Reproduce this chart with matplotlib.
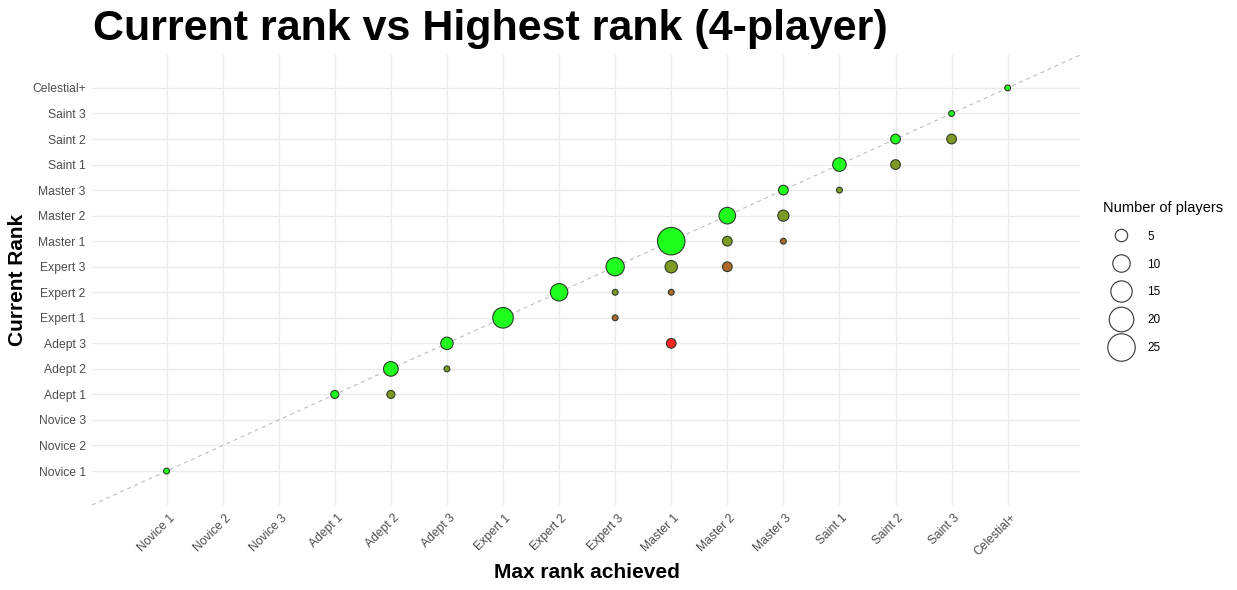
import matplotlib.pyplot as plt
from matplotlib.lines import Line2D
from matplotlib.transforms import ScaledTranslation

plt.rcParams['font.family'] = ['Liberation Sans', 'DejaVu Sans']

# rank ladder, lowest first
ranks = ["Novice 1", "Novice 2", "Novice 3", "Adept 1", "Adept 2", "Adept 3",
         "Expert 1", "Expert 2", "Expert 3", "Master 1", "Master 2", "Master 3",
         "Saint 1", "Saint 2", "Saint 3", "Celestial+"]

# one entry per (max rank, current rank) combination
max_rank = ["Novice 1", "Adept 1", "Adept 2", "Adept 2", "Adept 3", "Adept 3",
            "Expert 1", "Expert 2", "Expert 3", "Expert 3", "Expert 3",
            "Master 1", "Master 1", "Master 1", "Master 1",
            "Master 2", "Master 2", "Master 2",
            "Master 3", "Master 3", "Master 3",
            "Saint 1", "Saint 1", "Saint 2", "Saint 2", "Saint 3", "Saint 3",
            "Celestial+"]
current_rank = ["Novice 1", "Adept 1", "Adept 2", "Adept 1", "Adept 3", "Adept 2",
                "Expert 1", "Expert 2", "Expert 3", "Expert 2", "Expert 1",
                "Master 1", "Expert 3", "Expert 2", "Adept 3",
                "Master 2", "Master 1", "Expert 3",
                "Master 3", "Master 2", "Master 1",
                "Saint 1", "Master 3", "Saint 2", "Saint 1", "Saint 3", "Saint 2",
                "Celestial+"]
players = [1, 2, 7, 2, 5, 1,
           14, 10, 11, 1, 1,
           25, 5, 1, 3,
           9, 3, 3,
           3, 4, 1,
           6, 1, 3, 3, 1, 3,
           1]

legend_sizes = [5, 10, 15, 20, 25]

# fill by how many ranks the player has dropped (0 = still at max)
drop_colors = ["#1eff1e", "#7f9a22", "#b0682a", "#d44a2a", "#ff2222"]


def marker_area(n):
    # diameter in px^2 grows linearly with count, converted to pt^2
    d_px2 = 30 * n + 4
    return d_px2 * 0.72 ** 2


x = [ranks.index(r) for r in max_rank]
y = [ranks.index(r) for r in current_rank]
fills = [drop_colors[min(a - b, 4)] for a, b in zip(x, y)]
sizes = [marker_area(n) for n in players]

fig = plt.figure(figsize=(12.37, 5.90), dpi=100)
ax = fig.add_axes([92 / 1237, 1 - 505 / 590, (1080 - 92) / 1237, (505 - 55) / 590])

lo, hi = -1.33, 16.29
ax.plot([lo, hi], [lo, hi], linestyle=(0, (4, 4)), color="#b3b3b3", linewidth=0.7, zorder=1)
ax.scatter(x, y, s=sizes, c=fills, edgecolors="#2b3a2b", linewidths=0.8, zorder=3)

ax.set_xlim(lo, hi)
ax.set_ylim(lo, hi)
ax.set_xticks(range(len(ranks)))
ax.set_yticks(range(len(ranks)))
ax.set_xticklabels(ranks, rotation=45, ha="right", va="top", rotation_mode="anchor")
ax.set_yticklabels(ranks)
ax.tick_params(axis="both", length=0, labelsize=8.7, labelcolor="#4d4d4d")
ax.tick_params(axis="x", pad=5)
ax.tick_params(axis="y", pad=4.5)
for lab in ax.get_xticklabels():
    lab.set_transform(lab.get_transform() + ScaledTranslation(2 / 100, 0, fig.dpi_scale_trans))

ax.grid(True, color="#ebebeb", linewidth=1.0)
ax.set_axisbelow(True)
for sp in ax.spines.values():
    sp.set_visible(False)

fig.text(587 / 1237, 1 - 572 / 590, "Max rank achieved", fontsize=15, fontweight="bold",
         ha="center", va="center")
fig.text(18 / 1237, 1 - 280 / 590, "Current Rank", fontsize=15, fontweight="bold",
         ha="center", va="center", rotation=90)

fig.text(93 / 1237, 1 - 29 / 590, "Current rank vs Highest rank (4-player)",
         fontsize=31, fontweight="bold", ha="left", va="center")

handles = [Line2D([], [], linestyle="none", marker="o", markerfacecolor="white",
                  markeredgecolor="#333333", markeredgewidth=0.8,
                  markersize=marker_area(n) ** 0.5) for n in legend_sizes]
leg = fig.legend(handles, [str(n) for n in legend_sizes], title="Number of players",
                 loc="upper left", bbox_to_anchor=(1092 / 1237, 1 - 190 / 590),
                 frameon=False, fontsize=8.5, title_fontsize=10.5,
                 labelspacing=1.35, handletextpad=0.75, handlelength=3.05)
leg._legend_box.align = "left"

fig.savefig("out.png", dpi=100)
